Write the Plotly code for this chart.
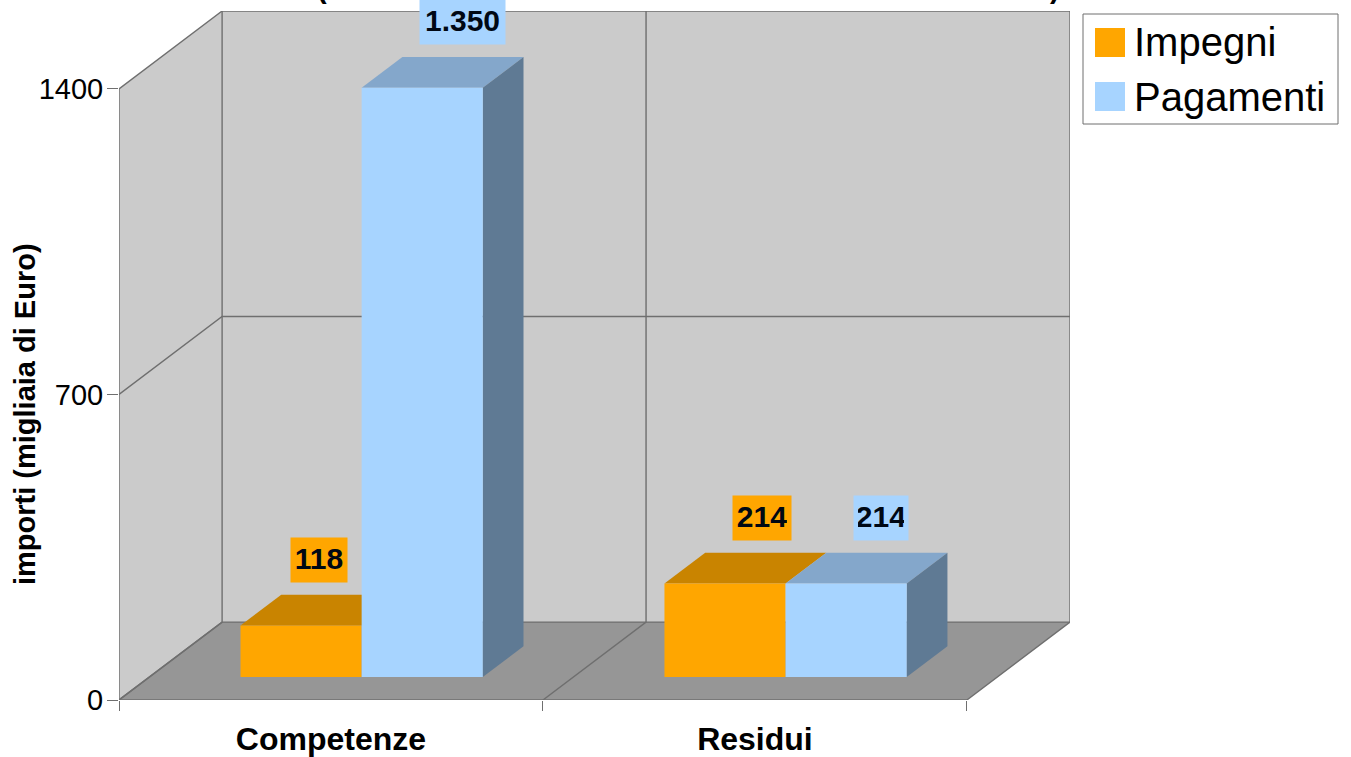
import plotly.graph_objects as go

# ---- data ----
categories = ["Competenze", "Residui"]
impegni = [118, 214]
pagamenti = [1350, 214]
impegni_labels = ["118", "214"]
pagamenti_labels = ["1.350", "214"]
y_ticks = [0, 700, 1400]

# ---- pseudo-3D projection (oblique) ----
W, H = 1351, 757
ML, MR, MT, MB = 119, 281, 11, 57
DX = 103 / 423.5          # category units per unit depth
DY = 78 * 1400 / 612      # value units per unit depth
BAR_W = 121 / 423.5
BAR_X0 = 91 / 423.5
D0, D1 = 0.295, 0.69
XMAX = 2 + DX
YMAX = 1400 + DY


def P(x, d, v):
    return x + d * DX, v + d * DY


def poly(points, color):
    xs, ys = zip(*[P(*p) for p in points])
    return go.Scatter(
        x=list(xs) + [xs[0]], y=list(ys) + [ys[0]], mode="lines", fill="toself",
        fillcolor=color, line=dict(width=0, color=color),
        showlegend=False, hoverinfo="skip",
    )


def line(points, color="#6f6f6f", width=1.4):
    xs, ys = zip(*[P(*p) for p in points])
    return go.Scatter(x=list(xs), y=list(ys), mode="lines", showlegend=False,
                      line=dict(color=color, width=width), hoverinfo="skip")


WALL, FLOOR = "#cbcbcb", "#969696"
ORANGE = ("#ffa600", "#c98400", "#96670f")
BLUE = ("#a7d4ff", "#84a7cb", "#5f7a94")
n = len(categories)
traces = [
    poly([(0, 0, 0), (n, 0, 0), (n, 1, 0), (0, 1, 0)], FLOOR),
    poly([(0, 0, 0), (0, 1, 0), (0, 1, 1400), (0, 0, 1400)], WALL),
    poly([(0, 1, 0), (n, 1, 0), (n, 1, 1400), (0, 1, 1400)], WALL),
]
for tick in y_ticks:
    traces.append(line([(0, 0, tick), (0, 1, tick), (n, 1, tick)]))
for i in range(n + 1):
    traces.append(line([(i, 0, 0), (i, 1, 0), (i, 1, 1400)]))
traces.append(line([(0, 0, 0), (n, 0, 0)]))
traces.append(line([(0, 0, 0), (0, 0, 1400)]))

SERIES = ((impegni, ORANGE, "Impegni"), (pagamenti, BLUE, "Pagamenti"))
for s, (series, cols, label) in enumerate(SERIES):
    for c, v in enumerate(series):
        x0 = c + BAR_X0 + s * BAR_W
        x1 = x0 + BAR_W
        traces.append(poly([(x0, D0, v), (x1, D0, v), (x1, D1, v), (x0, D1, v)], cols[1]))
        if s == len(SERIES) - 1:  # the other series' side is hidden by its neighbour
            traces.append(poly([(x1, D0, 0), (x1, D1, 0), (x1, D1, v), (x1, D0, v)], cols[2]))
for s, (series, cols, label) in enumerate(SERIES):
    for c, v in enumerate(series):
        x0 = c + BAR_X0 + s * BAR_W
        x1 = x0 + BAR_W
        traces.append(poly([(x0, D0, 0), (x1, D0, 0), (x1, D0, v), (x0, D0, v)], cols[0]))
    # legend entry for the series
    traces.append(go.Scatter(x=[None], y=[None], mode="markers", name=label,
                             marker=dict(symbol="square", size=16, color=cols[0])))

fig = go.Figure(traces)

# ---- value labels ----
TXT = "Liberation Sans"
label_shift = {(0, 0): -23, (0, 1): 0, (1, 0): -4, (1, 1): -6}
label_width = {(0, 0): 48, (0, 1): 77, (1, 0): 50, (1, 1): 46}
for s, (series, texts, cols) in enumerate(((impegni, impegni_labels, ORANGE), (pagamenti, pagamenti_labels, BLUE))):
    for c, v in enumerate(series):
        x, y = P(c + BAR_X0 + (s + 0.5) * BAR_W, D1, v)
        fig.add_annotation(x=x, y=y, text=f"<b>{texts[c]}</b>", showarrow=False,
                           xshift=label_shift[(c, s)], yshift=35, yanchor="middle", valign="top",
                           bgcolor=cols[0], width=label_width[(c, s)], height=36, borderpad=4,
                           font=dict(family=TXT, size=30, color="#000814"))


def px_x(p):
    return (p - ML) / (W - ML - MR)


def px_y(p):
    return 1 - (p - MT) / (H - MT - MB)


# Clipped remnants of the chart title at the page's top edge
for ch, px in (("(", 322), (")", 1055)):
    fig.add_annotation(xref="paper", yref="paper", x=px_x(px), y=px_y(5), text=f"<b>{ch}</b>",
                       showarrow=False, yanchor="bottom", xanchor="center",
                       borderpad=0, font=dict(family=TXT, size=29, color="black"))

# y axis title
fig.add_annotation(xref="paper", yref="paper", x=px_x(25), y=px_y(414), text="<b>importi (migliaia di Euro)</b>",
                   textangle=-90, showarrow=False, xanchor="center", yanchor="middle",
                   font=dict(family=TXT, size=29, color="black"))

# Legend frame and swatches (the library caps legend symbols, so bigger squares sit beneath them)
fig.add_shape(type="rect", xref="paper", yref="paper", x0=px_x(1083), x1=px_x(1338),
              y0=px_y(124), y1=px_y(14), fillcolor="rgba(0,0,0,0)", line=dict(width=1, color="#6f6f6f"), layer="above")
for col, y0, y1 in ((ORANGE[0], 28, 57), (BLUE[0], 82, 111)):
    fig.add_shape(type="rect", xref="paper", yref="paper", x0=px_x(1095), x1=px_x(1125),
                  y0=px_y(y1), y1=px_y(y0), fillcolor=col, line=dict(width=0), layer="above")

fig.update_layout(
    width=W, height=H, autosize=False,
    margin=dict(l=ML, r=MR, t=MT, b=MB, pad=0),
    paper_bgcolor="white", plot_bgcolor="white",
    font=dict(family=TXT, color="black"),
    xaxis=dict(
        automargin=False,
        range=[0, XMAX], showgrid=False, zeroline=False, showline=False,
        tickmode="array", tickvals=[i + 0.5 for i in range(n)],
        ticktext=[f"<b>{c}</b>" for c in categories],
        ticks="outside", ticklen=11, tickcolor="rgba(0,0,0,0)",
        tickfont=dict(size=32, family=TXT),
        minor=dict(tickmode="array", tickvals=list(range(n + 1)), ticks="outside", ticklen=10,
                   tickcolor="#6f6f6f", tickwidth=1.2, showgrid=False),
    ),
    yaxis=dict(
        automargin=False,
        range=[0, YMAX], showgrid=False, zeroline=False, showline=False,
        tickmode="array", tickvals=y_ticks, ticks="outside", ticklen=11, ticklabelstandoff=-2,
        tickcolor="#6f6f6f", tickwidth=1.2, tickfont=dict(size=29, family=TXT),
    ),
    legend=dict(
        xref="container", yref="container", x=1084 / W, y=1 - 8 / H, xanchor="left", yanchor="top",
        bgcolor="rgba(0,0,0,0)", borderwidth=0,
        font=dict(size=40, family=TXT, color="black"), itemwidth=40,
        tracegroupgap=0, itemclick=False, itemdoubleclick=False,
    ),
)

fig.write_html("out.html", post_script="document.body.style.margin='0';",
               config=dict(displayModeBar=False))
